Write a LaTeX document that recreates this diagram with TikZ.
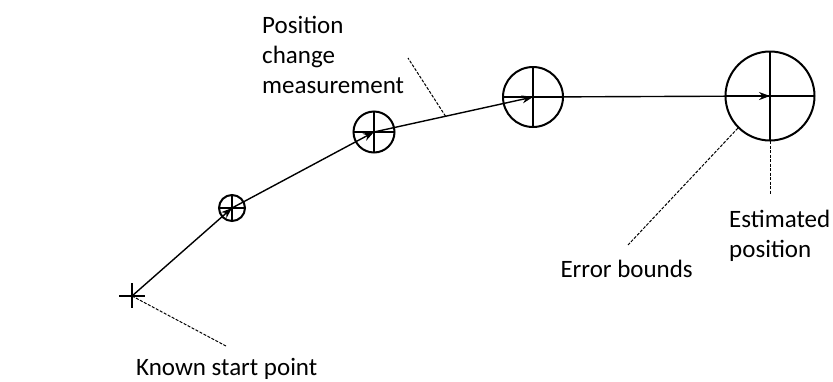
\documentclass[tikz,border=0pt]{standalone}
\usepackage{fontspec}
\setmainfont{Carlito}
\usetikzlibrary{arrows.meta,calc,positioning}

\tikzset{
  bound/.style={draw,circle,inner sep=0pt,line width=2pt,
    path picture={\draw[line width=1.5pt]
      (path picture bounding box.north) -- (path picture bounding box.south)
      (path picture bounding box.west) -- (path picture bounding box.east);}},
  track/.style={line width=1.4pt,-{Stealth[length=11pt,width=8pt]}},
  leader/.style={line width=1pt,dash pattern=on 3pt off 1.5pt},
  lbl/.style={inner sep=0pt,align=left,font=\fontsize{25}{30}\selectfont}
}

\begin{document}
\begin{tikzpicture}[x=1pt,y=-1pt]
\useasboundingbox (0,0) rectangle (833,381);

% start point and error circles
\coordinate (s) at (132,296);
\draw[line width=1.4pt] (s) +(-13,0) -- +(13,0) (s) +(0,-13) -- +(0,12);

\node[bound,minimum size=26pt] (p1) at (232,208) {};
\node[bound,minimum size=41pt] (p2) at (374,132) {};
\node[bound,minimum size=60pt] (p3) at (533,97) {};
\node[bound,minimum size=89pt] (p4) at (770,96) {};

\draw[track] (s) -- (p1.center);
\draw[track] (p1.center) -- (p2.center);
\draw[track] (p2.center) -- (p3.center);
\draw[track] (p3.center) -- (p4.center);

% labels (base = last line)
\node[lbl,anchor=base west] (kn) at (136,375) {Known start point};
\node[lbl,anchor=base west] (pc) at (262,93) {Position\\change\\measurement};
\node[lbl,anchor=base east] (eb) at (693,277) {Error bounds};
\node[lbl,anchor=base west] (ep) at (729,257) {Estimated\\position};

% leaders
\coordinate (knend) at (226,346);
\coordinate (pcend) at (408,58);
\coordinate (ebend) at (628,245);
\coordinate (epend) at (770,195);
\draw[leader] (s) -- (knend);
\draw[leader] ($(p2.center)!0.45!(p3.center)$) -- (pcend);
\draw[leader] (p4.-135) -- (ebend);
\draw[leader] (p4.center) -- (epend);
\end{tikzpicture}
\end{document}
